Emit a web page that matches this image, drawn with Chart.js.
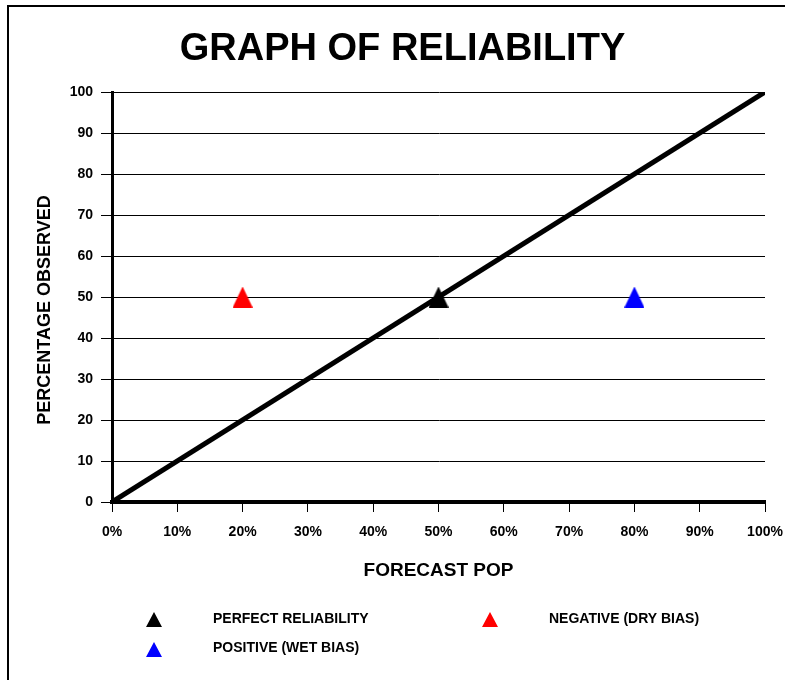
<!DOCTYPE html>
<html>
<head>
<meta charset="utf-8">
<script src="https://cdn.jsdelivr.net/npm/chart.js@4/dist/chart.umd.min.js"></script>
<style>
  html, body { margin: 0; padding: 0; background: #ffffff; }
  canvas { display: block; }
</style>
</head>
<body>
<canvas id="c" width="785" height="680"></canvas>
<script>
// ---- data ----
const chartTitle = 'GRAPH OF RELIABILITY';
const xAxisTitle = 'FORECAST POP';
const yAxisTitle = 'PERCENTAGE OBSERVED';
const xTickValues = [0, 10, 20, 30, 40, 50, 60, 70, 80, 90, 100];
const xTickLabels = ['0%', '10%', '20%', '30%', '40%', '50%', '60%', '70%', '80%', '90%', '100%'];
const yTickValues = [0, 10, 20, 30, 40, 50, 60, 70, 80, 90, 100];
const yTickLabels = ['0', '10', '20', '30', '40', '50', '60', '70', '80', '90', '100'];
const lineX = [0, 100];
const lineY = [0, 100];
const seriesNames = ['PERFECT RELIABILITY', 'NEGATIVE (DRY BIAS)', 'POSITIVE (WET BIAS)'];
const seriesForecast = [50, 20, 80];
const seriesObserved = [50, 50, 50];
const seriesColors = ['#000000', '#ff0000', '#0000ff'];

// ---- helpers ----
const FONT = 'Liberation Sans, Arial, Helvetica, sans-serif';
function triangleCanvas(color, w, h) {
  const cv = document.createElement('canvas');
  cv.width = w; cv.height = h;
  const c = cv.getContext('2d');
  c.fillStyle = color;
  c.beginPath();
  c.moveTo(w / 2, 0);
  c.lineTo(w, h);
  c.lineTo(0, h);
  c.closePath();
  c.fill();
  return cv;
}

const datasets = [];
seriesNames.forEach((name, i) => {
  datasets.push({
    type: 'scatter',
    label: name,
    data: [{ x: seriesForecast[i], y: seriesObserved[i] }],
    backgroundColor: seriesColors[i],
    borderColor: seriesColors[i],
    pointStyle: triangleCanvas(seriesColors[i], 20, 21),
    pointRadius: 10
  });
});
datasets.push({
  type: 'line',
  label: 'reliability',
  data: lineX.map((x, i) => ({ x: x, y: lineY[i] })),
  borderColor: '#000000',
  borderWidth: 5,
  pointRadius: 0,
  fill: false,
  tension: 0
});

const framePlugin = {
  id: 'frame',
  beforeDraw(chart) {
    const ctx = chart.ctx;
    ctx.save();
    ctx.fillStyle = '#ffffff';
    ctx.fillRect(0, 0, chart.width, chart.height);
    ctx.fillStyle = '#000000';
    ctx.fillRect(7, 5, chart.width - 7, 2);
    ctx.fillRect(7, 5, 2, chart.height - 5);
    ctx.restore();
  }
};

const legendPos = [
  { tx: 154, ty: 619.5, x: 213, y: 619 },
  { tx: 490, ty: 619.5, x: 549, y: 619 },
  { tx: 154, ty: 649.5, x: 213, y: 648.5 }
];
const customLegend = {
  id: 'customLegend',
  afterDraw(chart) {
    const ctx = chart.ctx;
    ctx.save();
    seriesNames.forEach((name, i) => {
      const p = legendPos[i];
      ctx.fillStyle = seriesColors[i];
      ctx.beginPath();
      ctx.moveTo(p.tx, p.ty - 7.5);
      ctx.lineTo(p.tx + 8, p.ty + 7.5);
      ctx.lineTo(p.tx - 8, p.ty + 7.5);
      ctx.closePath();
      ctx.fill();
      ctx.fillStyle = '#000000';
      ctx.font = 'bold 14px ' + FONT;
      ctx.textAlign = 'left';
      ctx.textBaseline = 'middle';
      ctx.fillText(name, p.x, p.y);
    });
    // y axis title (offset slightly below the plot centre, as in the original)
    ctx.translate(45, 310);
    ctx.rotate(-Math.PI / 2);
    ctx.font = 'bold 18px ' + FONT;
    ctx.textAlign = 'center';
    ctx.textBaseline = 'middle';
    ctx.fillStyle = '#000000';
    ctx.fillText(yAxisTitle, 0, 0);
    ctx.restore();
  }
};

new Chart(document.getElementById('c'), {
  data: { datasets: datasets },
  options: {
    responsive: false,
    animation: false,
    events: [],
    layout: { padding: { left: 20, right: 0, top: 0, bottom: 0 } },
    plugins: {
      legend: { display: false },
      tooltip: { enabled: false },
      title: {
        display: true,
        text: chartTitle,
        color: '#000000',
        font: { family: FONT, size: 38, weight: 'bold' },
        padding: { top: 27, bottom: 19.4 }
      }
    },
    scales: {
      x: {
        type: 'linear',
        min: 0, max: 100,
        afterBuildTicks(scale) { scale.ticks = xTickValues.map(v => ({ value: v })); },
        afterFit(scale) { scale.height = 178; scale.paddingRight = 20; },
        ticks: {
          color: '#000000',
          font: { family: FONT, size: 14, weight: 'bold' },
          padding: 12,
          maxRotation: 0,
          autoSkip: false,
          callback: (v) => xTickLabels[xTickValues.indexOf(v)]
        },
        grid: { drawOnChartArea: false, drawTicks: true, tickLength: 10, color: '#000000', lineWidth: 1 },
        border: { display: true, color: '#000000', width: 4 },
        title: {
          display: true,
          text: xAxisTitle,
          color: '#000000',
          font: { family: FONT, size: 19, weight: 'bold' },
          padding: { top: 0, bottom: 97.6 }
        }
      },
      y: {
        type: 'linear',
        min: 0, max: 100,
        afterBuildTicks(scale) { scale.ticks = yTickValues.map(v => ({ value: v })); },
        afterFit(scale) { scale.width = 92; },
        ticks: {
          color: '#000000',
          font: { family: FONT, size: 14, weight: 'bold' },
          padding: 8,
          autoSkip: false,
          callback: (v) => yTickLabels[yTickValues.indexOf(v)]
        },
        grid: { drawOnChartArea: true, drawTicks: true, tickLength: 11, color: '#000000', lineWidth: 1 },
        border: { display: true, color: '#000000', width: 3 },
        title: { display: false, text: yAxisTitle }
      }
    }
  },
  plugins: [framePlugin, customLegend]
});
</script>
</body>
</html>
